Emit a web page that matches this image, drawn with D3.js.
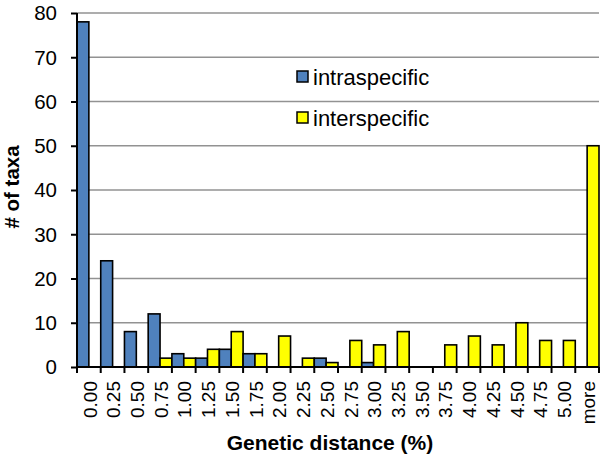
<!DOCTYPE html>
<html>
<head>
<meta charset="utf-8">
<script src="https://cdn.jsdelivr.net/npm/d3@7"></script>
<style>
  html, body { margin: 0; padding: 0; background: #fff; }
  svg { display: block; font-family: Arial, "Liberation Sans", Helvetica, sans-serif; }
</style>
</head>
<body>
<svg id="chart" width="600" height="460"></svg>
<script>
const categories = ["0.00","0.25","0.50","0.75","1.00","1.25","1.50","1.75","2.00","2.25","2.50","2.75","3.00","3.25","3.50","3.75","4.00","4.25","4.50","4.75","5.00","more"];
const intraspecific = [78,24,8,12,3,2,4,3,0,0,2,0,1,0,0,0,0,0,0,0,0,0];
const interspecific = [0,0,0,2,2,4,8,3,7,2,1,6,5,8,0,5,7,5,10,6,6,50];
const seriesNames = ["intraspecific","interspecific"];
const seriesColors = ["#4F81BD","#FFFF00"];
const yTicks = [0,10,20,30,40,50,60,70,80];

(function () {
const svg = d3.select("#chart");
const pLeft = 77, pRight = 599, pTop = 13, pBottom = 367;

const x = d3.scaleBand().domain(categories).range([pLeft, pRight]).paddingInner(0).paddingOuter(0);
const xs = d3.scaleBand().domain(seriesNames).range([0, x.bandwidth()]).padding(0);
const y = d3.scaleLinear().domain([0, 80]).range([pBottom, pTop]);

// gridlines
svg.append("g").selectAll("line").data(yTicks.filter(d => d > 0)).join("line")
  .attr("x1", pLeft).attr("x2", pRight)
  .attr("y1", d => y(d)).attr("y2", d => y(d))
  .attr("stroke", "#929292").attr("stroke-width", 1.5);

// bars
const rows = [];
categories.forEach((c, i) => {
  rows.push({cat: c, s: seriesNames[0], v: intraspecific[i], color: seriesColors[0]});
  rows.push({cat: c, s: seriesNames[1], v: interspecific[i], color: seriesColors[1]});
});
svg.append("g").selectAll("rect").data(rows.filter(d => d.v > 0)).join("rect")
  .attr("x", d => x(d.cat) + xs(d.s))
  .attr("width", xs.bandwidth())
  .attr("y", d => y(d.v))
  .attr("height", d => y(0) - y(d.v))
  .attr("fill", d => d.color)
  .attr("stroke", "#000").attr("stroke-width", 1.6);

// y axis
const yAxis = svg.append("g").attr("transform", `translate(${pLeft},0)`)
  .call(d3.axisLeft(y).tickValues(yTicks).tickSize(6).tickPadding(14).tickFormat(d3.format("d")));
yAxis.select(".domain").attr("stroke", "#000").attr("stroke-width", 2).attr("d", `M0,${pTop}V${pBottom}`);
yAxis.selectAll(".tick line").attr("stroke", "#000").attr("stroke-width", 2);
yAxis.selectAll(".tick text").attr("font-size", 20.5).attr("fill", "#000").attr("font-family", "Arial, 'Liberation Sans', sans-serif").attr("dy", "0.34em");

// x axis
const xAxis = svg.append("g").attr("transform", `translate(0,${pBottom})`)
  .call(d3.axisBottom(x).tickSize(0).tickFormat(""));
xAxis.select(".domain").attr("stroke", "#000").attr("stroke-width", 2).attr("d", `M${pLeft},0H${pRight}`);
const boundaries = categories.map(c => x(c)).concat([pRight]);
svg.append("g").selectAll("line").data(boundaries).join("line")
  .attr("x1", d => d).attr("x2", d => d)
  .attr("y1", pBottom).attr("y2", pBottom + 6)
  .attr("stroke", "#000").attr("stroke-width", 2);

// x tick labels (rotated)
svg.append("g").selectAll("text").data(categories).join("text")
  .attr("transform", d => `translate(${x(d) + x.bandwidth() / 2 + 1},381) rotate(-90)`)
  .attr("text-anchor", "end")
  .attr("dy", "0.35em")
  .attr("font-size", 19)
  .attr("fill", "#000")
  .text(d => d);

// axis titles
svg.append("text")
  .attr("transform", "translate(19,187) rotate(-90)")
  .attr("text-anchor", "middle")
  .attr("font-size", 20.5).attr("font-weight", "bold")
  .text("# of taxa");
svg.append("text")
  .attr("x", 330).attr("y", 450)
  .attr("text-anchor", "middle")
  .attr("font-size", 21).attr("font-weight", "bold")
  .text("Genetic distance (%)");

// legend
const legend = svg.append("g");
const legendY = [77, 118];
seriesNames.forEach((name, i) => {
  legend.append("rect")
    .attr("x", 297).attr("y", legendY[i] - 6)
    .attr("width", 11).attr("height", 11)
    .attr("fill", seriesColors[i]).attr("stroke", "#000").attr("stroke-width", 1.5);
  legend.append("text")
    .attr("x", 313).attr("y", legendY[i])
    .attr("dy", "0.35em")
    .attr("font-size", 22)
    .attr("fill", "#000")
    .text(name);
});
})();
</script>
</body>
</html>
